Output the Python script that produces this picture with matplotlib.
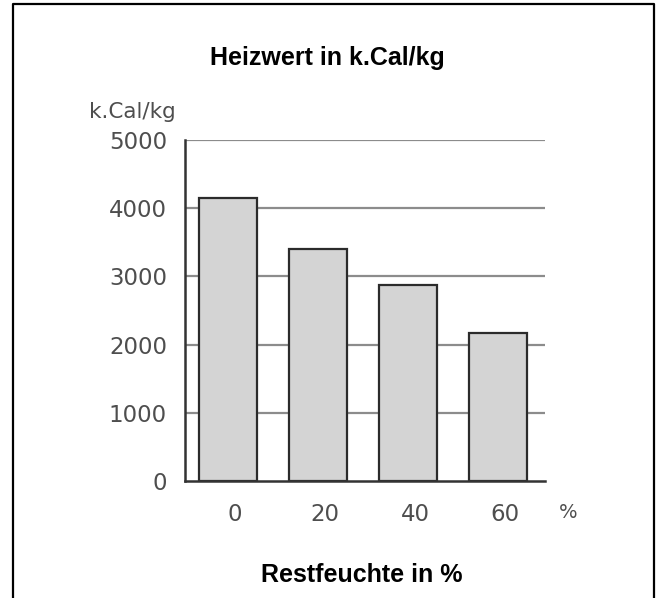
import matplotlib.pyplot as plt
import matplotlib.transforms as mtransforms
from matplotlib.lines import Line2D

# ── data ─────────────────────────────────────────────────────────────────────
moisture = ["0", "20", "40", "60"]          # Restfeuchte in %
heat_value = [4150, 3400, 2870, 2170]       # k.Cal/kg
y_ticks = [0, 1000, 2000, 3000, 4000, 5000]

W, H = 658, 598
fig = plt.figure(figsize=(W / 100, H / 100), dpi=100)
fig.patch.set_facecolor("white")

# axes placed in pixel terms
ax_l, ax_r, ax_top, ax_zero = 185, 545, 140, 481
ax = fig.add_axes([ax_l / W, 1 - ax_zero / H, (ax_r - ax_l) / W, (ax_zero - ax_top) / H])

pos = range(len(moisture))
ax.set_xlim(-0.48, 3.52)
ax.set_ylim(0, 5000)

# grid lines behind the bars
for v in y_ticks[1:]:
    ax.axhline(v, color="#8c8c8c", linewidth=1.6, zorder=1)

ax.bar(pos, heat_value, width=0.64, color="#d4d4d4", edgecolor="#2b2b2b",
       linewidth=1.6, zorder=3)

for side in ("top", "right"):
    ax.spines[side].set_visible(False)
for side in ("left", "bottom"):
    ax.spines[side].set_color("#333333")
    ax.spines[side].set_linewidth(1.8)
    ax.spines[side].set_zorder(4)

tick_font = dict(family="DejaVu Sans", size=16.5)
ax.set_yticks(y_ticks)
ax.set_yticklabels([str(v) for v in y_ticks], color="#4e4e4e", **tick_font)
ax.set_xticks(list(pos))
ax.set_xticklabels(moisture, color="#4e4e4e", **tick_font)
ax.tick_params(axis="y", length=0, pad=13)
ax.tick_params(axis="x", length=0, pad=16)

# nudge the category labels a little to the right
shift = mtransforms.ScaledTranslation(7 / 100, 0, fig.dpi_scale_trans)
for lbl in ax.get_xticklabels():
    lbl.set_transform(lbl.get_transform() + shift)

# unit labels
fig.text(568 / W, 1 - 512 / H, "%", ha="center", va="center",
         color="#4e4e4e", family="DejaVu Sans", size=14)
fig.text(132 / W, 1 - 112 / H, "k.Cal/kg", ha="center", va="center",
         color="#4e4e4e", family="DejaVu Sans", size=15.5)

# headings
fig.text(327 / W, 1 - 65 / H, "Heizwert in k.Cal/kg", ha="center", va="baseline",
         family="Liberation Sans", weight="bold", size=18, color="black")
fig.text(362 / W, 1 - 582 / H, "Restfeuchte in %", ha="center", va="baseline",
         family="Liberation Sans", weight="bold", size=18, color="black")

# open frame around the chart (no bottom edge)
fig.add_artist(Line2D([13 / W, 13 / W, 654 / W, 654 / W],
                      [0, 1 - 4 / H, 1 - 4 / H, 0],
                      transform=fig.transFigure, color="black", linewidth=1.6))

fig.savefig("out.png", dpi=100)
